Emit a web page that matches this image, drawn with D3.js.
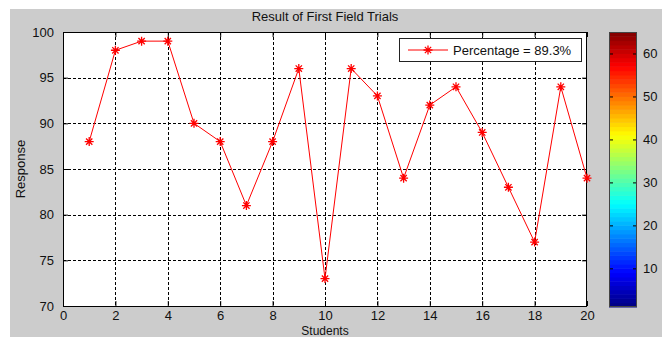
<!DOCTYPE html>
<html>
<head>
<meta charset="utf-8">
<script src="https://cdn.jsdelivr.net/npm/d3@7"></script>
<style>
  body { margin: 0; background: #fff; }
  svg text { font-family: "Liberation Sans", Arial, sans-serif; fill: #111; }
</style>
</head>
<body>
<svg id="chart" width="662" height="337"></svg>
<script>
// Data
var students = [1, 2, 3, 4, 5, 6, 7, 8, 9, 10, 11, 12, 13, 14, 15, 16, 17, 18, 19, 20];
var responses = [88, 98, 99, 99, 90, 88, 81, 88, 96, 73, 96, 93, 84, 92, 94, 89, 83, 77, 94, 84];
var xTicks = [0, 2, 4, 6, 8, 10, 12, 14, 16, 18, 20];
var yTicks = [70, 75, 80, 85, 90, 95, 100];
var cbarTicks = [10, 20, 30, 40, 50, 60];
var cbarRange = [1, 65];

var svg = d3.select('#chart');

// Layout
var plot = { l: 63, r: 587, t: 32, b: 306 };
var cbar = { l: 609, r: 637, t: 32, b: 307 };

// figure background (grey, with a white strip top/left)
svg.append('rect')
    .attr('x', 10).attr('y', 9)
    .attr('width', 652).attr('height', 328)
    .attr('fill', '#cccccc');

var xScale = d3.scaleLinear().domain([0, 20]).range([plot.l, plot.r]);
var yScale = d3.scaleLinear().domain([70, 100]).range([plot.b, plot.t]);

// plot area
svg.append('rect')
    .attr('x', plot.l).attr('y', plot.t)
    .attr('width', plot.r - plot.l).attr('height', plot.b - plot.t)
    .attr('fill', '#fff');

// grid lines
var gridG = svg.append('g').attr('stroke', '#000').attr('stroke-dasharray', '3,2').attr('stroke-width', 1);
gridG.selectAll('.vgrid')
    .data(xTicks.slice(1, -1))
    .enter().append('line')
    .attr('x1', d => Math.round(xScale(d)) + 0.5).attr('x2', d => Math.round(xScale(d)) + 0.5)
    .attr('y1', plot.t).attr('y2', plot.b);
gridG.selectAll('.hgrid')
    .data(yTicks.slice(1, -1))
    .enter().append('line')
    .attr('y1', d => Math.round(yScale(d)) + 0.5).attr('y2', d => Math.round(yScale(d)) + 0.5)
    .attr('x1', plot.l).attr('x2', plot.r);

// axes (ticks inward, on all four sides)
function styleAxis(g) {
    g.select('.domain').remove();
    g.selectAll('line').attr('stroke', '#000');
    g.selectAll('text').style('font-size', '13px').attr('fill', '#111');
}

svg.append('g')
    .attr('transform', 'translate(0,' + plot.b + ')')
    .call(d3.axisBottom(xScale).tickValues(xTicks).tickSize(-5).tickPadding(5))
    .call(styleAxis);
svg.append('g')
    .attr('transform', 'translate(0,' + plot.t + ')')
    .call(d3.axisTop(xScale).tickValues(xTicks).tickSize(-5).tickFormat(''))
    .call(styleAxis);
svg.append('g')
    .attr('transform', 'translate(' + plot.l + ',0)')
    .call(d3.axisLeft(yScale).tickValues(yTicks).tickSize(-5).tickPadding(9))
    .call(styleAxis);
svg.append('g')
    .attr('transform', 'translate(' + plot.r + ',0)')
    .call(d3.axisRight(yScale).tickValues(yTicks).tickSize(-5).tickFormat(''))
    .call(styleAxis);

// box
svg.append('rect')
    .attr('x', plot.l + 0.5).attr('y', plot.t + 0.5)
    .attr('width', plot.r - plot.l - 1).attr('height', plot.b - plot.t)
    .attr('fill', 'none').attr('stroke', '#000').attr('stroke-width', 1);

// data line
var line = d3.line()
    .x((d, i) => xScale(students[i]))
    .y(d => yScale(d));

svg.append('path')
    .datum(responses)
    .attr('d', line)
    .attr('fill', 'none')
    .attr('stroke', '#ff0000')
    .attr('stroke-width', 1);

// asterisk markers
function asterisk(g, s) {
    var a = s * 0.7;
    g.append('path')
        .attr('d', 'M' + (-s) + ',0H' + s + 'M0,' + (-s) + 'V' + s +
            'M' + (-a) + ',' + (-a) + 'L' + a + ',' + a +
            'M' + (-a) + ',' + a + 'L' + a + ',' + (-a))
        .attr('stroke', '#ff0000')
        .attr('stroke-width', 1.3)
        .attr('fill', 'none');
}

svg.selectAll('.marker')
    .data(responses)
    .enter().append('g')
    .attr('class', 'marker')
    .attr('transform', (d, i) => 'translate(' + xScale(students[i]) + ',' + yScale(d) + ')')
    .each(function () { asterisk(d3.select(this), 4.5); });

// legend
var mean = d3.mean(responses);
var legG = svg.append('g');
legG.append('rect')
    .attr('x', 399.5).attr('y', 38.5)
    .attr('width', 182).attr('height', 23)
    .attr('fill', '#fff').attr('stroke', '#222');
legG.append('line')
    .attr('x1', 408).attr('x2', 448)
    .attr('y1', 50).attr('y2', 50)
    .attr('stroke', '#ff0000');
asterisk(legG.append('g').attr('transform', 'translate(428,50)'), 4.5);
legG.append('text')
    .attr('x', 453).attr('y', 55)
    .style('font-size', '13px')
    .text('Percentage = ' + mean.toFixed(1) + '%');

// title and axis labels
svg.append('text')
    .attr('x', (plot.l + plot.r) / 2).attr('y', 21)
    .attr('text-anchor', 'middle')
    .style('font-size', '13px')
    .text('Result of First Field Trials');
svg.append('text')
    .attr('x', (plot.l + plot.r) / 2).attr('y', 335)
    .attr('text-anchor', 'middle')
    .style('font-size', '12px')
    .text('Students');
svg.append('text')
    .attr('transform', 'translate(25,' + (plot.t + plot.b) / 2 + ') rotate(-90)')
    .attr('text-anchor', 'middle')
    .style('font-size', '13px')
    .text('Response');

// colorbar (jet colormap, 64 bands)
function jet(x) {
    function c(v) { return Math.max(0, Math.min(1, v)); }
    var r = c(1.5 - Math.abs(4 * x - 3));
    var g = c(1.5 - Math.abs(4 * x - 2));
    var b = c(1.5 - Math.abs(4 * x - 1));
    return d3.rgb(r * 255, g * 255, b * 255);
}
var nBands = 64;
var bands = d3.range(nBands);
var cScale = d3.scaleLinear().domain(cbarRange).range([cbar.b, cbar.t]);

svg.selectAll('.band')
    .data(bands)
    .enter().append('rect')
    .attr('class', 'band')
    .attr('x', cbar.l)
    .attr('width', cbar.r - cbar.l)
    .attr('y', d => cScale(cbarRange[0] + d + 1))
    .attr('height', d => cScale(cbarRange[0] + d) - cScale(cbarRange[0] + d + 1) + 0.5)
    .attr('fill', d => jet((d + 0.5) / nBands));

svg.append('g')
    .attr('transform', 'translate(' + cbar.r + ',0)')
    .call(d3.axisRight(cScale).tickValues(cbarTicks).tickSize(-4).tickPadding(6))
    .call(styleAxis);
svg.append('g')
    .attr('transform', 'translate(' + cbar.l + ',0)')
    .call(d3.axisLeft(cScale).tickValues(cbarTicks).tickSize(-4).tickFormat(''))
    .call(styleAxis);

svg.append('rect')
    .attr('x', cbar.l + 0.5).attr('y', cbar.t + 0.5)
    .attr('width', cbar.r - cbar.l - 1).attr('height', cbar.b - cbar.t - 1)
    .attr('fill', 'none').attr('stroke', '#444');
</script>
</body>
</html>
